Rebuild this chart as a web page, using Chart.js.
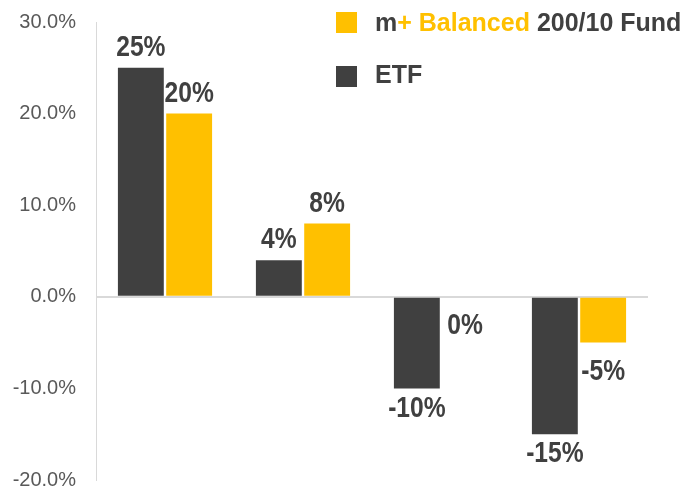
<!DOCTYPE html>
<html>
<head>
<meta charset="utf-8">
<script src="https://cdn.jsdelivr.net/npm/chart.js@4/dist/chart.umd.min.js"></script>
<style>
  html, body { margin: 0; padding: 0; background: #fff; }
  #wrap { position: relative; width: 700px; height: 491px; }
  #grafica { position: absolute; left: 0; top: 0; }
  .leyenda { position: absolute; left: 336px; font-family: 'Liberation Sans', Arial, sans-serif; font-weight: bold; font-size: 25px; color: #404040; }
  .leyenda .caja { position: absolute; left: 0; width: 21px; height: 21px; }
  .leyenda span.txt { position: absolute; left: 39px; white-space: nowrap; line-height: 25px; }
  .oro { color: #FFC000; }
</style>
</head>
<body>
<div id="wrap">
  <canvas id="grafica" width="700" height="491"></canvas>
  <div class="leyenda" style="top:12px">
    <div class="caja" style="background:#FFC000; top:0"></div>
    <span class="txt" style="top:-2px">m<span class="oro">+ Balanced</span> 200/10 Fund</span>
  </div>
  <div class="leyenda" style="top:66px">
    <div class="caja" style="background:#404040; top:0"></div>
    <span class="txt" style="top:-4px">ETF</span>
  </div>
</div>
<script>
const categorias = ['A', 'B', 'C', 'D'];
const valoresETF = [25, 4, -10, -15];
const valoresFondo = [20, 8, 0, -5];
const ticksY = [-20, -10, 0, 10, 20, 30];

const colorOscuro = '#404040';
const colorOro = '#FFC000';

const ctx = document.getElementById('grafica').getContext('2d');

// Etiquetas de valor encima / debajo de cada barra (letra estrecha)
const etiquetasBarras = {
  id: 'etiquetasBarras',
  afterDatasetsDraw(chart) {
    const c = chart.ctx;
    const estrecho = 0.82;
    c.save();
    c.font = "bold 30px 'Liberation Sans', Arial, sans-serif";
    c.fillStyle = colorOscuro;
    c.textAlign = 'center';
    chart.data.datasets.forEach((ds, i) => {
      chart.getDatasetMeta(i).data.forEach((barra, j) => {
        const v = ds.data[j];
        const txt = v + '%';
        let y;
        if (v > 0) {
          c.textBaseline = 'bottom';
          y = barra.y - 5;
        } else {
          c.textBaseline = 'top';
          y = Math.max(barra.y, barra.base) + (i === 0 ? 5 : 14);
        }
        c.save();
        c.translate(barra.x, y);
        c.scale(estrecho, 1);
        c.fillText(txt, 0, 0);
        c.restore();
      });
    });
    c.restore();
  }
};

new Chart(ctx, {
  type: 'bar',
  data: {
    labels: categorias,
    datasets: [
      {
        label: 'ETF',
        data: valoresETF,
        backgroundColor: colorOscuro,
        barPercentage: 0.95,
        categoryPercentage: 0.7
      },
      {
        label: 'm+ Balanced 200/10 Fund',
        data: valoresFondo,
        backgroundColor: colorOro,
        barPercentage: 0.95,
        categoryPercentage: 0.7
      }
    ]
  },
  plugins: [etiquetasBarras],
  options: {
    responsive: false,
    animation: false,
    layout: { padding: { top: 22, right: 52, bottom: 11, left: 0 } },
    plugins: {
      legend: { display: false },
      tooltip: { enabled: false }
    },
    scales: {
      x: {
        display: false
      },
      y: {
        min: -20,
        max: 30,
        afterBuildTicks: scale => { scale.ticks = ticksY.map(v => ({ value: v })); },
        afterFit: scale => {
          scale.width = 96;
          scale.paddingTop = 0;
          scale.paddingBottom = 0;
        },
        border: { display: true, color: '#d9d9d9', width: 1 },
        grid: {
          drawTicks: false,
          lineWidth: 2,
          color: c => (c.tick && c.tick.value === 0 ? '#d9d9d9' : 'rgba(0,0,0,0)')
        },
        ticks: {
          padding: 20,
          color: '#595959',
          font: { family: "'Liberation Sans', Arial, sans-serif", size: 20 },
          callback: v => v.toFixed(1) + '%'
        }
      }
    }
  }
});
</script>
</body>
</html>
